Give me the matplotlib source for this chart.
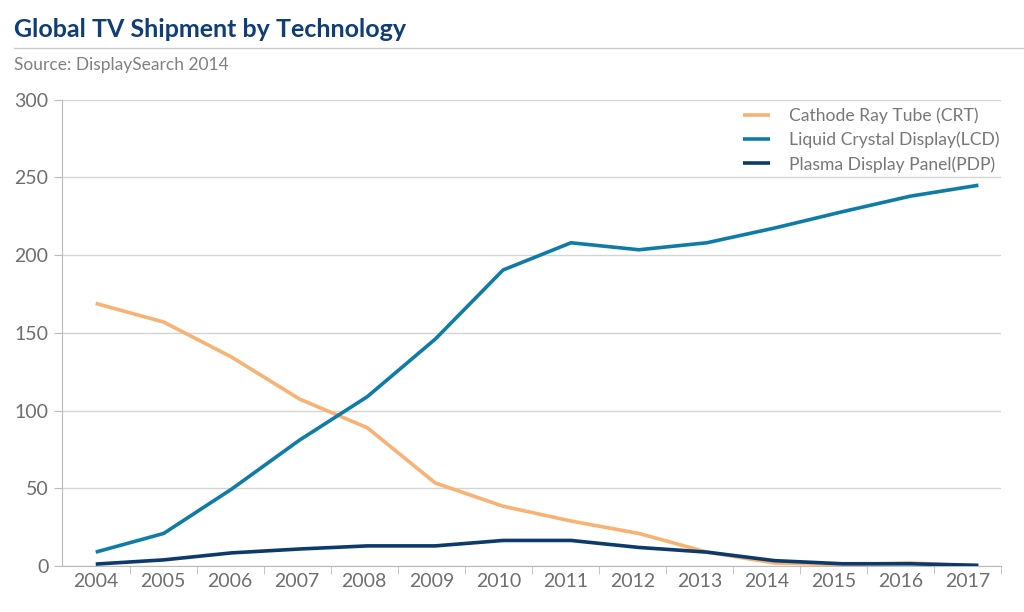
import matplotlib
matplotlib.use("Agg")
import matplotlib.pyplot as plt

plt.rcParams['font.family'] = ['Lato', 'DejaVu Sans']

years = ['2004', '2005', '2006', '2007', '2008', '2009', '2010',
         '2011', '2012', '2013', '2014', '2015', '2016', '2017']
crt = [169, 157, 134.5, 107.5, 89, 53.5, 38.5, 29, 21, 9, 2, 1, 2, 0]
lcd = [9, 21, 49.5, 81, 109, 146, 190.5, 208, 203.5, 208, 217.5, 228, 238, 245]
pdp = [1.3, 4, 8.5, 11, 13, 13, 16.5, 16.5, 12, 9, 3.5, 1.5, 1.5, 0.5]

series_names = ['Cathode Ray Tube (CRT)', 'Liquid Crystal Display(LCD)', 'Plasma Display Panel(PDP)']
series_colors = ['#F8B273', '#0F7CA8', '#0D3A6C']

fig = plt.figure(figsize=(10.24, 6.12), dpi=100)
ax = fig.add_axes([0.061, 0.075, 0.917, 0.762])

x = list(range(len(years)))
ax.set_xlim(-0.5, len(years) - 0.5)
ax.set_ylim(0, 300)
ax.set_yticks([0, 50, 100, 150, 200, 250, 300])
ax.set_xticks(x)
ax.set_xticklabels(years)
# category boundaries get the tick marks, like a spreadsheet chart
ax.set_xticks([i + 0.5 for i in range(len(years))], minor=True)
ax.tick_params(axis='x', which='major', length=0, pad=5)
ax.tick_params(axis='x', which='minor', length=6, color='#BBBBBB')
ax.tick_params(axis='y', length=6, color='#BBBBBB', pad=4)
ax.tick_params(labelsize=14, labelcolor='#6E6E6E')

ax.grid(axis='y', color='#D4D4D4', linewidth=1)
ax.set_axisbelow(True)
for side in ['top', 'right']:
    ax.spines[side].set_visible(False)
for side in ['left', 'bottom']:
    ax.spines[side].set_color('#BBBBBB')

# the original lines are stretched a little past the category centres
ax2 = ax.twiny()
ax2.set_xlim(-0.49, 13.34)
ax2.set_ylim(0, 300)
ax2.axis('off')
for vals, name, col in zip([crt, lcd, pdp], series_names, series_colors):
    ax2.plot(x, vals, color=col, linewidth=2.6, label=name, solid_capstyle='butt')

leg = ax2.legend(loc='upper right', frameon=False, fontsize=12.6, handlelength=1.5,
                 labelspacing=0.45, handletextpad=1.1, bbox_to_anchor=(1.0145, 1.018))
for t in leg.get_texts():
    t.set_color('#777777')

fig.text(0.014, 0.952, 'Global TV Shipment by Technology', fontsize=18, fontweight='bold',
         color='#0E3D78', va='center')
fig.add_artist(plt.Line2D([0.014, 1.0], [0.921, 0.921], color='#CCCCCC', linewidth=1))
fig.text(0.014, 0.893, 'Source: DisplaySearch 2014', fontsize=12.5, color='#808080', va='center')

fig.savefig('out.png', dpi=100)
